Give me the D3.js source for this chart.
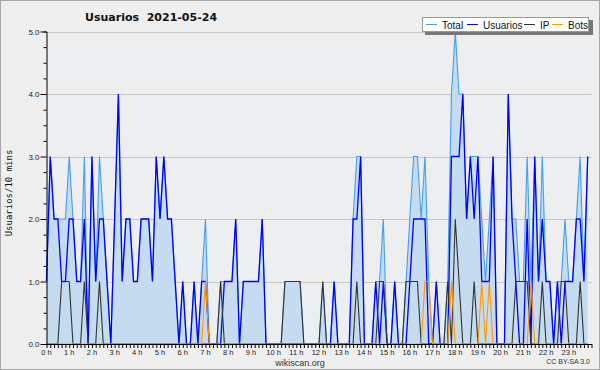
<!DOCTYPE html>
<html>
<head>
<meta charset="utf-8">
<script src="https://cdn.jsdelivr.net/npm/d3@7"></script>
<style>
  html, body { margin: 0; padding: 0; background: #efefef; }
  svg { display: block; font-family: "Liberation Sans", Arial, sans-serif; }
</style>
</head>
<body>
<div id="chart"></div>
<script>
// Values per 10 minutes, one row per hour
const usuarios = [
  1, 3, 2, 2, 1, 1,   2, 2, 1, 1, 2, 0,   3, 1, 2, 2, 1, 0,   2, 4, 1, 2, 2, 1,
  1, 2, 2, 2, 1, 3,   2, 3, 2, 2, 1, 0,   1, 0, 0, 1, 0, 1,   1, 0, 0, 0, 0, 1,
  1, 1, 2, 0, 1, 1,   1, 1, 1, 2, 0, 0,   0, 0, 0, 0, 0, 0,   0, 0, 0, 0, 0, 0,
  0, 0, 0, 0, 1, 0,   0, 0, 0, 2, 2, 3,   0, 0, 0, 1, 0, 1,   0, 0, 1, 0, 0, 0,
  1, 2, 2, 2, 2, 0,   0, 1, 0, 0, 0, 3,   3, 3, 4, 2, 3, 2,   3, 1, 1, 1, 3, 0,
  0, 0, 4, 2, 1, 0,   0, 2, 0, 3, 1, 2,   1, 1, 0, 1, 0, 1,   1, 1, 2, 2, 1, 3
];
const ip = [
  0, 0, 0, 0, 1, 1,   1, 0, 0, 0, 1, 0,   0, 0, 1, 0, 0, 0,   0, 0, 0, 0, 0, 0,
  0, 0, 0, 0, 0, 0,   0, 0, 0, 0, 0, 0,   0, 0, 0, 0, 0, 0,   0, 0, 0, 0, 1, 0,
  0, 0, 0, 0, 0, 0,   0, 0, 0, 0, 0, 0,   0, 0, 0, 1, 1, 1,   1, 1, 0, 0, 0, 0,
  0, 1, 0, 0, 0, 0,   0, 0, 0, 0, 1, 0,   0, 0, 0, 0, 1, 1,   0, 0, 0, 0, 0, 1,
  1, 1, 1, 0, 0, 0,   0, 0, 0, 0, 1, 0,   2, 1, 0, 0, 0, 1,   0, 0, 0, 0, 0, 0,
  0, 0, 0, 0, 1, 1,   1, 1, 0, 0, 0, 1,   0, 0, 0, 0, 1, 1,   0, 0, 0, 1, 0, 0
];
const bots = [
  0, 0, 0, 0, 0, 0,   0, 0, 0, 0, 0, 0,   0, 0, 0, 0, 0, 0,   0, 0, 0, 0, 0, 0,
  0, 0, 0, 0, 0, 0,   0, 0, 0, 0, 0, 0,   0, 0, 0, 0, 0, 0,   1, 0, 0, 0, 0, 0,
  0, 0, 0, 0, 0, 0,   0, 0, 0, 0, 0, 0,   0, 0, 0, 0, 0, 0,   0, 0, 0, 0, 0, 0,
  0, 0, 0, 0, 0, 0,   0, 0, 0, 0, 0, 0,   0, 0, 0, 0, 0, 0,   0, 0, 0, 0, 0, 0,
  0, 0, 0, 0, 1, 1,   0, 0, 0, 0, 0, 1,   0, 0, 0, 0, 0, 0,   0, 1, 0, 1, 0, 0,
  0, 0, 0, 0, 0, 0,   0, 0, 1, 0, 0, 0,   0, 0, 0, 0, 0, 0,   0, 0, 0, 0, 0, 0
];
const total = [
  1, 3, 2, 2, 2, 2,   3, 2, 1, 1, 3, 0,   3, 1, 3, 2, 1, 0,   2, 4, 1, 2, 2, 1,
  1, 2, 2, 2, 1, 3,   2, 3, 2, 2, 1, 0,   1, 0, 0, 1, 0, 1,   2, 0, 0, 0, 1, 1,
  1, 1, 2, 0, 1, 1,   1, 1, 1, 2, 0, 0,   0, 0, 0, 1, 1, 1,   1, 1, 0, 0, 0, 0,
  0, 1, 0, 0, 1, 0,   0, 0, 0, 2, 3, 3,   0, 0, 0, 1, 1, 2,   0, 0, 1, 0, 0, 1,
  2, 3, 3, 2, 3, 1,   0, 1, 0, 0, 1, 4,   5, 4, 4, 2, 3, 3,   3, 2, 1, 2, 3, 0,
  0, 0, 4, 2, 2, 1,   1, 3, 1, 3, 1, 3,   1, 1, 0, 1, 1, 2,   1, 1, 2, 3, 1, 3
];
const hourLabels = ['0 h', '1 h', '2 h', '3 h', '4 h', '5 h', '6 h', '7 h', '8 h', '9 h',
  '10 h', '11 h', '12 h', '13 h', '14 h', '15 h', '16 h', '17 h', '18 h', '19 h',
  '20 h', '21 h', '22 h', '23 h'];
const yTicks = [0, 1, 2, 3, 4, 5];
const seriesNames = ['Total', 'Usuarios', 'IP', 'Bots'];
const seriesColors = ['#449ff0', '#0000ff', '#333333', '#ff9900'];

const w = 600;
const h = 370;
const plotLeft = 46.5;
const plotRight = 591.5;
const plotTop = 31.5;
const plotBottom = 344;

const svg = d3.select('#chart')
  .append('svg')
  .attr('width', w)
  .attr('height', h);

// outer frame
svg.append('rect')
  .attr('x', 0.5).attr('y', 0.5)
  .attr('width', w - 1).attr('height', h - 1)
  .attr('fill', '#efefef')
  .attr('stroke', '#a8a8a8');

svg.append('rect')
  .attr('x', plotLeft).attr('y', plotTop)
  .attr('width', plotRight - plotLeft).attr('height', plotBottom - plotTop)
  .attr('fill', '#edeef0');

// scales: x in hours of the day, points every 10 minutes
const xscale = d3.scaleLinear().domain([0, 24]).range([plotLeft, plotRight]);
const yscale = d3.scaleLinear().domain([0, 5]).range([plotBottom, plotTop]);
const xPoint = (d, i) => xscale(i / 6);

// grid
svg.append('g')
  .selectAll('line')
  .data(yTicks.filter((t) => t > 0))
  .enter()
  .append('line')
  .attr('x1', plotLeft).attr('x2', plotRight)
  .attr('y1', (d) => Math.round(yscale(d)) + 0.5)
  .attr('y2', (d) => Math.round(yscale(d)) + 0.5)
  .attr('stroke', '#c8c8c8');

// area under total
const area = d3.area()
  .x(xPoint)
  .y0(plotBottom)
  .y1((d) => yscale(d));
svg.append('path')
  .datum(total)
  .attr('d', area)
  .attr('fill', '#c5dcf0');

const line = d3.line().x(xPoint).y((d) => yscale(d));
[total, usuarios, ip, bots].forEach((s, k) => {
  svg.append('path')
    .datum(s)
    .attr('d', line)
    .attr('fill', 'none')
    .attr('stroke', seriesColors[k])
    .attr('stroke-width', k === 1 ? 1.3 : 1.1);
});

// y axis
const yAxis = d3.axisLeft(yscale)
  .tickValues(d3.range(0, 5.01, 0.25))
  .tickSize(3)
  .tickFormat((d) => (Number.isInteger(d) ? d.toFixed(1) : ''));
const gy = svg.append('g')
  .attr('transform', 'translate(' + plotLeft + ', 0)')
  .call(yAxis);
gy.select('.domain').attr('stroke', '#000');
gy.selectAll('.tick line')
  .attr('x2', (d) => (Number.isInteger(d) ? -6 : -3))
  .attr('stroke', '#000');
gy.selectAll('.tick text')
  .attr('x', -7)
  .attr('font-size', 8)
  .attr('font-family', '"Liberation Sans", Arial, sans-serif')
  .attr('fill', '#222');

// x axis
const xAxis = d3.axisBottom(xscale)
  .tickValues(d3.range(0, 24.01, 1 / 6))
  .tickSize(4)
  .tickSizeOuter(0)
  .tickFormat(() => '');
const gx = svg.append('g')
  .attr('transform', 'translate(0, ' + plotBottom + ')')
  .call(xAxis);
gx.select('.domain').attr('stroke', '#000').attr('stroke-width', 1.2);
gx.selectAll('.tick line').attr('stroke', '#000');

svg.append('g')
  .selectAll('text')
  .data(hourLabels)
  .enter()
  .append('text')
  .attr('x', (d, i) => xscale(i))
  .attr('y', 354.5)
  .attr('text-anchor', 'middle')
  .attr('font-size', 7.5)
  .attr('fill', '#222')
  .text((d) => d);

// title
svg.append('text')
  .attr('x', 85)
  .attr('y', 21)
  .attr('font-size', 11)
  .attr('font-weight', 'bold')
  .style('font-family', '"DejaVu Sans", sans-serif')
  .style('white-space', 'pre')
  .attr('fill', '#111')
  .text('Usuarios  2021-05-24');

svg.append('text')
  .attr('transform', 'translate(12, 193) rotate(-90)')
  .attr('text-anchor', 'middle')
  .attr('font-size', 9)
  .style('font-family', '"DejaVu Sans Mono", monospace')
  .attr('fill', '#111')
  .text('Usuarios/10 mins');

svg.append('text')
  .attr('x', 300)
  .attr('y', 365.5)
  .attr('text-anchor', 'middle')
  .attr('font-size', 9)
  .attr('fill', '#333')
  .text('wikiscan.org');

svg.append('text')
  .attr('x', 590)
  .attr('y', 364)
  .attr('text-anchor', 'end')
  .attr('font-size', 7)
  .attr('fill', '#333')
  .text('CC BY-SA 3.0');

// legend with shadow
const lg = svg.append('g');
lg.append('rect')
  .attr('x', 425).attr('y', 20)
  .attr('width', 168).attr('height', 15)
  .attr('fill', '#777');
lg.append('rect')
  .attr('x', 422.5).attr('y', 17.5)
  .attr('width', 166).attr('height', 14)
  .attr('fill', '#fff')
  .attr('stroke', '#999');
const legendX = [426, 467, 524, 552];
seriesNames.forEach((name, k) => {
  lg.append('line')
    .attr('x1', legendX[k]).attr('x2', legendX[k] + 11)
    .attr('y1', 24.5).attr('y2', 24.5)
    .attr('stroke', seriesColors[k]);
  lg.append('text')
    .attr('x', legendX[k] + 16)
    .attr('y', 28.5)
    .attr('font-size', 10)
    .attr('fill', '#111')
    .text(name);
});
</script>
</body>
</html>
